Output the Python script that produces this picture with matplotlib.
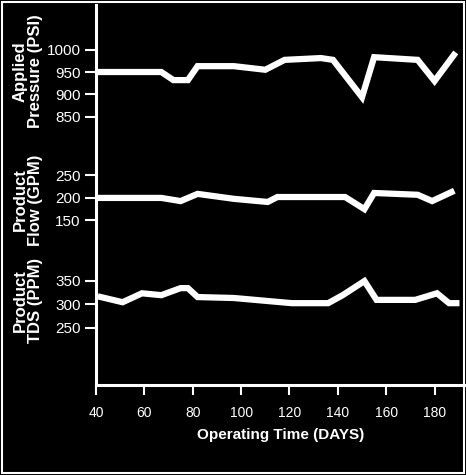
import numpy as np
import matplotlib
matplotlib.use("Agg")
from matplotlib import pyplot as plt
from matplotlib.patches import Rectangle

# operating time (days) and values
press_days = [42, 67, 72, 78, 82, 97, 110, 118, 133, 138, 150, 155, 173, 180, 188]
pressure = [950, 950, 932, 932, 963, 963, 955, 977, 981, 977, 894, 983, 977, 930, 988]

flow_days = [42, 67, 75, 82, 97, 111, 115, 143, 151, 155, 173, 179, 187]
flow = [200, 200, 193, 209, 198, 191, 202, 202, 175, 211, 207, 193, 213]

tds_days = [42, 51, 59, 67, 75, 78, 82, 97, 121, 136, 142, 151, 156, 172, 181, 186, 189]
tds = [315, 304, 323, 319, 334, 334, 315, 313, 302, 302, 319, 349, 309, 309, 323, 302, 302]

x_ticks = [40, 60, 80, 100, 120, 140, 160, 180]
press_ticks = [850, 900, 950, 1000]
flow_ticks = [150, 200, 250]
tds_ticks = [250, 300, 350]

plt.rcParams['font.family'] = ['Liberation Sans', 'DejaVu Sans']
fig = plt.figure(figsize=(4.66, 4.75), dpi=100, facecolor='black')
rect = [96/466, 90/475, 370/466, 380/475]

ax = fig.add_axes(rect, facecolor='black')
ax.set_xlim(40, 193)
ax.set_yticks([])
for s in ['top', 'right']:
    ax.spines[s].set_visible(False)
for s in ['left', 'bottom']:
    ax.spines[s].set_color('white')
    ax.spines[s].set_linewidth(2.2)
ax.set_xticks(x_ticks)
ax.tick_params(axis='x', colors='white', direction='out', length=7, width=1.5,
               labelsize=10, pad=8)
ax.set_xlabel('Operating Time (DAYS)', color='white', fontsize=11,
              fontweight='bold', labelpad=6)

# each series gets its own overlaid axis with its own y scale
series = [
    (press_days, pressure, press_ticks, (254, 1099), 'Applied\nPressure (PSI)', 0.85),
    (flow_days, flow, flow_ticks, (-216, 629), 'Product\nFlow (GPM)', 0.579),
    (tds_days, tds, tds_ticks, (128, 936), 'Product\nTDS (PPM)', 0.368),
]
for xs, ys, ticks, lim, label, ly in series:
    a = fig.add_axes(rect, facecolor='none', sharex=ax)
    a.plot(xs, ys, color='white', lw=4.5, solid_joinstyle='miter')
    a.set_ylim(*lim)
    a.set_yticks(ticks)
    a.tick_params(axis='y', colors='white', direction='out', length=8, width=1.5,
                  labelsize=11, pad=3)
    a.tick_params(axis='x', bottom=False, labelbottom=False)
    for s in a.spines.values():
        s.set_visible(False)
    fig.text(0.06, ly, label, color='white', fontsize=12, fontweight='bold',
             rotation=90, ha='center', va='center', linespacing=1.0)

# scan border
fig.patches.append(Rectangle((0.005, 0.005), 0.99, 0.99, transform=fig.transFigure,
                             fill=False, edgecolor='white', lw=1.5))

fig.savefig('out.png', dpi=100, facecolor='black')
